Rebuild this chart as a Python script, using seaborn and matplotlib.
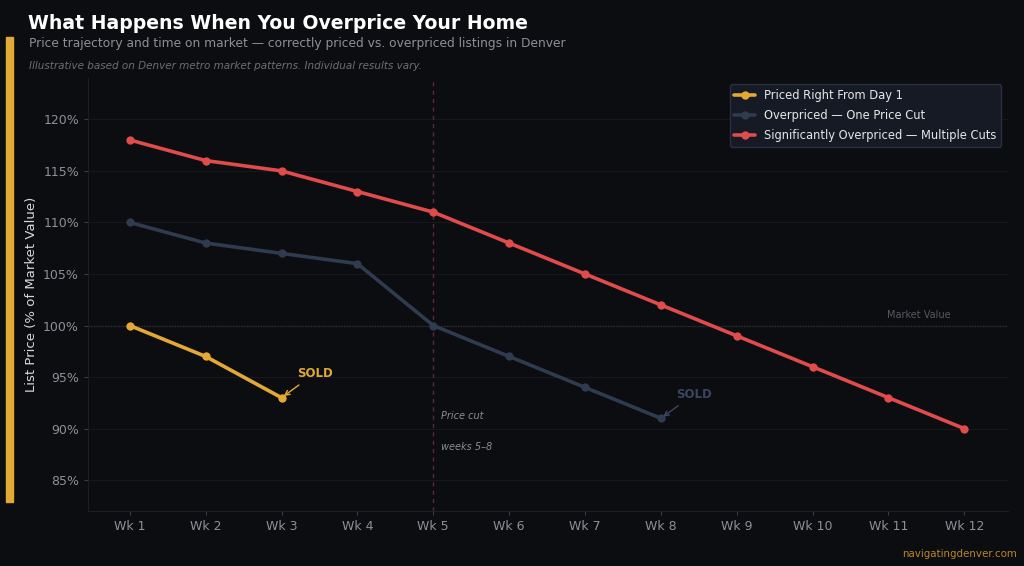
import pandas as pd
import matplotlib
matplotlib.use('Agg')
import matplotlib.pyplot as plt
import seaborn as sns

# data
weeks = ['Wk 1', 'Wk 2', 'Wk 3', 'Wk 4', 'Wk 5', 'Wk 6', 'Wk 7', 'Wk 8', 'Wk 9', 'Wk 10', 'Wk 11', 'Wk 12']
priced_right = [100, 97, 93]
one_cut = [110, 108, 107, 106, 100, 97, 94, 91]
multi_cut = [118, 116, 115, 113, 111, 108, 105, 102, 99, 96, 93, 90]
series_names = ['Priced Right From Day 1', 'Overpriced — One Price Cut', 'Significantly Overpriced — Multiple Cuts']
series_colors = ['#e3a935', '#2f3b4e', '#e04b4b']

rows = []
for name, vals in zip(series_names, [priced_right, one_cut, multi_cut]):
    for i, v in enumerate(vals):
        rows.append({'week': i, 'price': v, 'series': name})
df = pd.DataFrame(rows)

bg = '#0c0d10'
sns.set_theme(style='dark')
plt.rcParams['font.family'] = ['DejaVu Sans']

fig = plt.figure(figsize=(10.24, 5.66), dpi=100, facecolor=bg)
ax = fig.add_axes([0.086, 0.097, 0.898, 0.765])
ax.set_facecolor(bg)

sns.lineplot(data=df, x='week', y='price', hue='series', hue_order=series_names,
             palette=series_colors, marker='o', markersize=6, markeredgewidth=0,
             linewidth=2.6, ax=ax)

# reference lines
ax.axhline(100, color='#2a2d33', lw=1, ls=(0, (1, 1)), zorder=1)
ax.text(10.4, 100.5, 'Market Value', color='#55585e', fontsize=7, ha='center', va='bottom')
ax.axvline(4, color='#5a2a36', lw=1, ls=(0, (3, 3)), zorder=1)
ax.text(4.1, 91.2, 'Price cut', color='#8a8d93', fontsize=7, style='italic', va='center')
ax.text(4.1, 88.2, 'weeks 5–8', color='#8a8d93', fontsize=7, style='italic', va='center')

# sold annotations
ax.annotate('SOLD', xy=(2, 93), xytext=(2.2, 95.0), color='#e3a935', fontsize=8.5, fontweight='bold',
            arrowprops=dict(arrowstyle='->', color='#e3a935', lw=1))
ax.annotate('SOLD', xy=(7, 91), xytext=(7.2, 93.0), color='#3a4760', fontsize=8.5, fontweight='bold',
            arrowprops=dict(arrowstyle='->', color='#3a4760', lw=1))

ax.set_xlim(-0.55, 11.57)
ax.set_ylim(82, 124)
ax.set_xticks(range(len(weeks)))
ax.set_xticklabels(weeks)
ax.set_yticks([85, 90, 95, 100, 105, 110, 115, 120])
ax.set_yticklabels([f'{v}%' for v in [85, 90, 95, 100, 105, 110, 115, 120]])
ax.tick_params(colors='#8d9096', labelsize=9, length=3, width=0.8, direction='out', left=True, bottom=True)
ax.tick_params(axis='both', color='#3a3d44')
ax.set_xlabel('')
ax.set_ylabel('List Price (% of Market Value)', color='#d8d9dc', fontsize=9.5)
ax.grid(axis='y', color='#16181d', lw=0.8)
ax.grid(axis='x', visible=False)
for side in ['top', 'right']:
    ax.spines[side].set_visible(False)
for side in ['left', 'bottom']:
    ax.spines[side].set_color('#1c1e24')
    ax.spines[side].set_linewidth(0.8)

leg = ax.legend(loc='upper right', fontsize=8.3, facecolor='#161a24', edgecolor='#2a3040',
                framealpha=1, borderaxespad=0.55, handlelength=1.8, labelspacing=0.6)
for t in leg.get_texts():
    t.set_color('#e6e7ea')

# titles and decorations
fig.text(0.027, 0.975, 'What Happens When You Overprice Your Home', color='white',
         fontsize=13.6, fontweight='bold', va='top')
fig.text(0.028, 0.924, 'Price trajectory and time on market — correctly priced vs. overpriced listings in Denver',
         color='#8d9096', fontsize=8.8, va='center')
fig.text(0.028, 0.884, 'Illustrative based on Denver metro market patterns. Individual results vary.',
         color='#6b6e74', fontsize=7.5, style='italic', va='center')
fig.text(0.993, 0.022, 'navigatingdenver.com', color='#b8862b', fontsize=7.4, ha='right', va='center')
fig.patches.append(plt.Rectangle((0.006, 0.113), 0.007, 0.822, transform=fig.transFigure,
                                 color='#e3a935', zorder=5))

fig.savefig('out.png', dpi=100, facecolor=bg)
